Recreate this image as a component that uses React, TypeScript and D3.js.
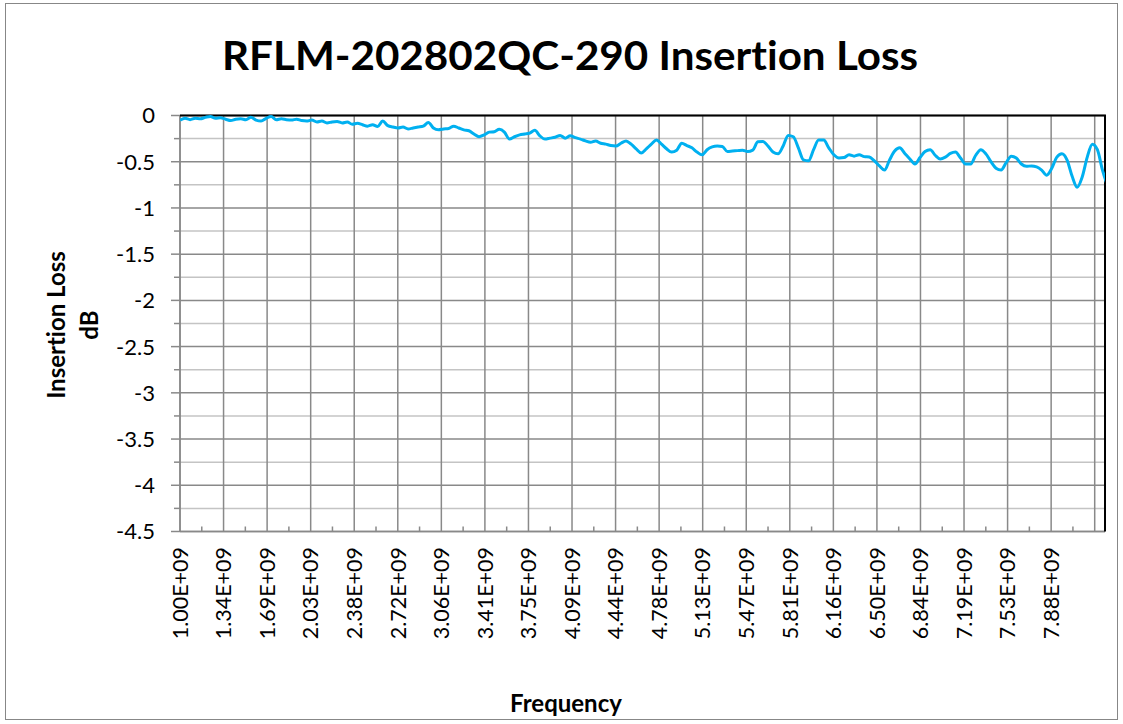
import React from "react";
import * as d3 from "d3";

const chartTitle = "RFLM-202802QC-290 Insertion Loss";
const yAxisTitleLines = ["Insertion Loss", "dB"];
const xAxisTitle = "Frequency";

// sampling grid of the measurement (GHz)
const startGHz = 1.0;
const stepGHz = 0.04;

// insertion loss in dB
const insertionLossDb = [
  -0.05, -0.03, -0.045, -0.03, -0.035, -0.02, -0.01, -0.03, -0.025, -0.04,
  -0.055, -0.04, -0.035, -0.045, -0.02, -0.05, -0.06, -0.03, -0.01, -0.045,
  -0.035, -0.045, -0.05, -0.04, -0.055, -0.06, -0.05, -0.07, -0.06, -0.08,
  -0.07, -0.065, -0.08, -0.07, -0.095, -0.085, -0.1, -0.115, -0.1, -0.12,
  -0.06, -0.11, -0.125, -0.135, -0.125, -0.145, -0.135, -0.125, -0.115, -0.075,
  -0.135, -0.155, -0.145, -0.14, -0.115, -0.135, -0.155, -0.165, -0.2, -0.23,
  -0.21, -0.18, -0.175, -0.15, -0.18, -0.255, -0.23, -0.21, -0.2, -0.19,
  -0.16, -0.22, -0.255, -0.245, -0.235, -0.215, -0.245, -0.22, -0.24, -0.255,
  -0.275, -0.29, -0.275, -0.3, -0.31, -0.325, -0.33, -0.3, -0.275, -0.31,
  -0.36, -0.405, -0.36, -0.31, -0.265, -0.31, -0.36, -0.395, -0.375, -0.3,
  -0.325, -0.35, -0.395, -0.425, -0.37, -0.34, -0.33, -0.335, -0.39, -0.385,
  -0.38, -0.375, -0.39, -0.375, -0.285, -0.28, -0.33, -0.395, -0.415, -0.33,
  -0.215, -0.23, -0.35, -0.48, -0.49, -0.37, -0.265, -0.265, -0.35, -0.425,
  -0.46, -0.455, -0.425, -0.44, -0.425, -0.445, -0.45, -0.49, -0.545, -0.59,
  -0.48, -0.385, -0.35, -0.41, -0.47, -0.525, -0.455, -0.39, -0.37, -0.43,
  -0.47, -0.45, -0.41, -0.395, -0.46, -0.525, -0.525, -0.43, -0.37, -0.415,
  -0.5, -0.57, -0.59, -0.51, -0.44, -0.46, -0.525, -0.55, -0.545, -0.555,
  -0.59, -0.645, -0.57, -0.45, -0.415, -0.48, -0.655, -0.775, -0.665, -0.45,
  -0.31, -0.37, -0.59, -0.76,
];

const xTickLabels = [
  "1.00E+09", "1.34E+09", "1.69E+09", "2.03E+09", "2.38E+09", "2.72E+09",
  "3.06E+09", "3.41E+09", "3.75E+09", "4.09E+09", "4.44E+09", "4.78E+09",
  "5.13E+09", "5.47E+09", "5.81E+09", "6.16E+09", "6.50E+09", "6.84E+09",
  "7.19E+09", "7.53E+09", "7.88E+09",
];
const xGridStepGHz = 0.34375;
const xGridCount = 22;
const xDomainGHz = [1.0, 8.3];

const yTickValues = [0, -0.5, -1, -1.5, -2, -2.5, -3, -3.5, -4, -4.5];
const yMinorValues = [-0.25, -0.75, -1.25, -1.75, -2.25, -2.75, -3.25, -3.75, -4.25];

const W = 1123;
const H = 724;
const P = { left: 180, right: 1105, top: 115.5, bottom: 531.5 };
const FONT = "Lato, 'Open Sans', sans-serif";
const GRID = "#898989";
const MINOR = "#c4c4c4";
const LINE = "#00B0F0";

export default function App() {
  const x = d3.scaleLinear().domain(xDomainGHz).range([P.left, P.right]);
  const y = d3.scaleLinear().domain([0, -4.5]).range([P.top, P.bottom]);

  const pts: [number, number][] = insertionLossDb.map((v, i) => [startGHz + i * stepGHz, v]);
  const lineGen = d3
    .line<[number, number]>()
    .x((d) => x(d[0]))
    .y((d) => y(d[1]))
    .curve(d3.curveMonotoneX);

  const gridFreqs = d3.range(xGridCount).map((k) => xDomainGHz[0] + k * xGridStepGHz);
  const minorFreqs = d3
    .range(xGridCount)
    .map((k) => xDomainGHz[0] + (k + 0.5) * xGridStepGHz)
    .filter((f) => f < xDomainGHz[1]);

  return (
    <svg
      width={W}
      height={H}
      style={{ position: "absolute", left: 0, top: 0, background: "#fff", fontVariantLigatures: "none" }}
      fontFamily={FONT}
    >
      <rect x={0} y={0} width={W} height={H} fill="#fff" />
      <rect x={5.5} y={3.5} width={1112} height={716} fill="none" stroke="#878787" strokeWidth={1} />

      <text
        x={570}
        y={70}
        textAnchor="middle"
        fontSize={41}
        fontWeight={700}
        fill="#000"
        textLength={696}
        lengthAdjust="spacingAndGlyphs"
      >
        {chartTitle}
      </text>

      {/* minor horizontal grid */}
      {yMinorValues.map((v) => (
        <line key={"mh" + v} x1={P.left} x2={P.right} y1={y(v)} y2={y(v)} stroke={MINOR} strokeWidth={1.5} />
      ))}
      {/* major horizontal grid */}
      {yTickValues.map((v) => (
        <line key={"h" + v} x1={P.left} x2={P.right} y1={y(v)} y2={y(v)} stroke={GRID} strokeWidth={1.5} />
      ))}
      {/* vertical grid */}
      {gridFreqs.map((f) => (
        <line key={"v" + f} x1={x(f)} x2={x(f)} y1={P.top} y2={P.bottom} stroke={GRID} strokeWidth={1.5} />
      ))}

      {/* y axis */}
      <line x1={P.left} x2={P.left} y1={P.top} y2={P.bottom} stroke={GRID} strokeWidth={1.5} />
      {yTickValues.map((v) => (
        <line key={"yt" + v} x1={P.left - 9} x2={P.left} y1={y(v)} y2={y(v)} stroke={GRID} strokeWidth={1.5} />
      ))}
      {yMinorValues.map((v) => (
        <line key={"ymt" + v} x1={P.left - 6} x2={P.left} y1={y(v)} y2={y(v)} stroke={GRID} strokeWidth={1.5} />
      ))}
      {yTickValues.map((v) => (
        <text key={"yl" + v} x={155} y={y(v)} dy="0.36em" textAnchor="end" fontSize={22} fill="#000">
          {v === 0 ? "0" : String(v)}
        </text>
      ))}

      {/* x axis */}
      <line x1={P.left} x2={P.right} y1={P.bottom} y2={P.bottom} stroke={GRID} strokeWidth={1.5} />
      {minorFreqs.map((f) => (
        <line key={"xm" + f} x1={x(f)} x2={x(f)} y1={P.bottom - 5} y2={P.bottom} stroke={GRID} strokeWidth={1.5} />
      ))}
      {xTickLabels.map((lab, k) => {
        const gx = x(gridFreqs[k]);
        return (
          <text
            key={"xl" + lab}
            transform={`translate(${gx},${547}) rotate(-90)`}
            dy="0.36em"
            textAnchor="end"
            fontSize={21.5}
            fill="#000"
          >
            {lab}
          </text>
        );
      })}

      {/* plot border top/right */}
      <line x1={P.left} x2={P.right + 1} y1={P.top} y2={P.top} stroke="#000" strokeWidth={2} />
      <line x1={P.right} x2={P.right} y1={P.top} y2={P.bottom} stroke="#000" strokeWidth={2} />

      <defs>
        <clipPath id="plotClip">
          <rect x={P.left} y={P.top - 10} width={P.right - P.left} height={P.bottom - P.top + 10} />
        </clipPath>
      </defs>
      <path
        d={lineGen(pts) || ""}
        fill="none"
        stroke={LINE}
        strokeWidth={3}
        strokeLinejoin="round"
        clipPath="url(#plotClip)"
      />

      {/* axis titles */}
      <g fontWeight={700} fontSize={24} fill="#000">
        <text transform={`translate(65,325) rotate(-90)`} textAnchor="middle">
          {yAxisTitleLines[0]}
        </text>
        <text transform={`translate(98,325) rotate(-90)`} textAnchor="middle">
          {yAxisTitleLines[1]}
        </text>
        <text x={566} y={712} textAnchor="middle">
          {xAxisTitle}
        </text>
      </g>
    </svg>
  );
}
